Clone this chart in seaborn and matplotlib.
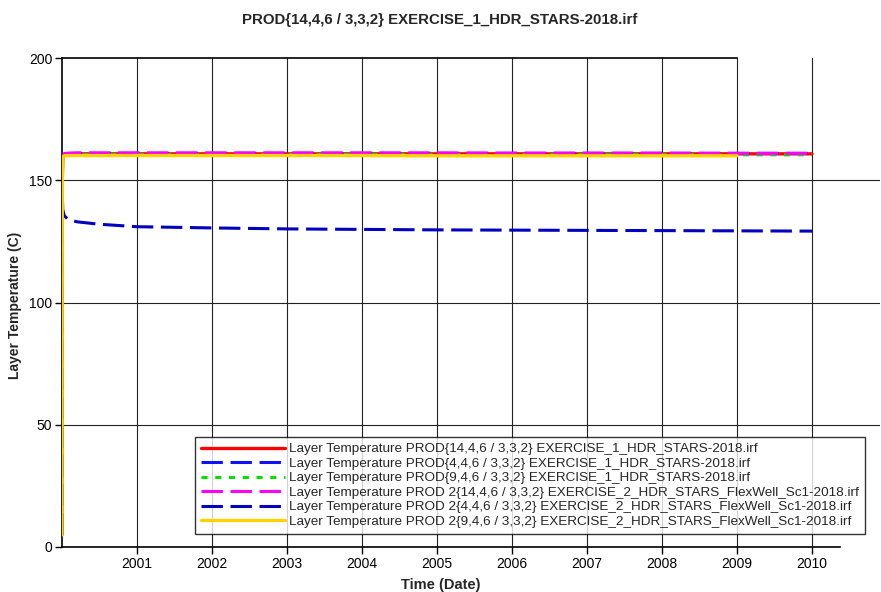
import numpy as np
import pandas as pd
import matplotlib
matplotlib.use("Agg")
import matplotlib.pyplot as plt
import seaborn as sns

# ---- data (decimal years) ----
t_main = [2000.0, 2000.004, 2000.01, 2000.03, 2000.08, 2000.2, 2000.5, 2001, 2002, 2003,
          2004, 2005, 2006, 2007, 2008, 2009, 2010]
t_short = [2000.0, 2000.004, 2000.01, 2000.03, 2000.08, 2000.2, 2000.5, 2001, 2002, 2003,
           2004, 2005, 2006, 2007, 2008, 2009]

s1_red = [5, 150, 159.5, 160.5, 160.7, 160.8, 160.8, 160.8, 160.8, 160.8, 160.8, 160.8, 160.8, 160.8, 160.8, 160.8, 160.8]
s2_blue = [5, 150, 159.8, 160.7, 160.9, 161.0, 161.0, 161.0, 161.0, 161.0, 161.0, 161.0, 161.0, 161.0, 161.0, 161.0, 161.0]
s3_green = [5, 150, 159.5, 160.3, 160.5, 160.5, 160.5, 160.5, 160.5, 160.5, 160.5, 160.5, 160.5, 160.5, 160.5, 160.4, 160.4]
s4_magenta = [5, 152, 160.0, 160.9, 161.1, 161.2, 161.2, 161.2, 161.2, 161.2, 161.2, 161.2, 161.1, 161.1, 161.1, 161.0, 161.0]
s5_navy = [5, 145, 138, 135.5, 134, 133, 132, 131.0, 130.5, 130.1, 129.9, 129.7, 129.6, 129.5, 129.4, 129.3, 129.2]
s6_yellow = [5, 150, 159.5, 160.0, 160.1, 160.1, 160.1, 160.1, 160.1, 160.1, 160.1, 160.0, 160.0, 160.0, 160.0, 160.0]

labels = [
    "Layer Temperature PROD{14,4,6 / 3,3,2} EXERCISE_1_HDR_STARS-2018.irf",
    "Layer Temperature PROD{4,4,6 / 3,3,2} EXERCISE_1_HDR_STARS-2018.irf",
    "Layer Temperature PROD{9,4,6 / 3,3,2} EXERCISE_1_HDR_STARS-2018.irf",
    "Layer Temperature PROD 2{14,4,6 / 3,3,2} EXERCISE_2_HDR_STARS_FlexWell_Sc1-2018.irf",
    "Layer Temperature PROD 2{4,4,6 / 3,3,2} EXERCISE_2_HDR_STARS_FlexWell_Sc1-2018.irf",
    "Layer Temperature PROD 2{9,4,6 / 3,3,2} EXERCISE_2_HDR_STARS_FlexWell_Sc1-2018.irf",
]
title = "PROD{14,4,6 / 3,3,2} EXERCISE_1_HDR_STARS-2018.irf"
year_ticks = [2001, 2002, 2003, 2004, 2005, 2006, 2007, 2008, 2009, 2010]
y_ticks = [0, 50, 100, 150, 200]

sns.set_style("white")
plt.rcParams['font.family'] = ['Liberation Sans', 'DejaVu Sans']

fig = plt.figure(figsize=(8.81, 5.92), dpi=100)
ax = fig.add_axes([62/881, 45/592, (880-62)/881, (547-58)/592])

series = [
    (t_main, s1_red, "#FF0000", "-", 2.4),
    (t_main, s2_blue, "#1010FF", (0, (7, 2.5)), 2.2),
    (t_main, s3_green, "#00DD00", (0, (2, 2.5)), 2.2),
    (t_main, s4_magenta, "#FF00FF", (0, (7, 2.5)), 2.2),
    (t_main, s5_navy, "#0000C0", (0, (7, 2.5)), 2.2),
    (t_short, s6_yellow, "#FFD200", "-", 2.4),
]
for (tx, vals, col, ls, lw), lab in zip(series, labels):
    df = pd.DataFrame({"t": tx, "v": vals})
    sns.lineplot(data=df, x="t", y="v", ax=ax, color=col, linestyle=ls, lw=lw,
                 label=lab, legend=False, zorder=3)

ax.set_xlim(2000, 2000 + (880-62)/75)
ax.set_ylim(0, 200)
ax.set_xticks(year_ticks)
ax.set_xticklabels([str(y) for y in year_ticks])
ax.set_yticks(y_ticks)
ax.tick_params(axis='both', direction='out', length=5, width=1, labelsize=10, colors='black', pad=2,
               bottom=True, left=True)
ax.grid(True, color='#222222', lw=0.8)
glines = ax.yaxis.get_gridlines()
glines[0].set_visible(False)
glines[-1].set_visible(False)

for s in ['top', 'bottom', 'left']:
    ax.spines[s].set_visible(True)
    ax.spines[s].set_color('black')
    ax.spines[s].set_linewidth(1.2)
ax.spines['right'].set_visible(False)
ax.spines['top'].set_bounds(2000, 2009)
ax.spines['bottom'].set_bounds(2000, 2010.37)

ax.set_xlabel("")
ax.set_ylabel("")
fig.text(441/881, 1 - 585/592, "Time (Date)", ha='center', va='center', fontsize=10.5, fontweight='bold')
fig.text(15/881, 1 - 305/592, "Layer Temperature (C)", ha='center', va='center', rotation=90,
         fontsize=10, fontweight='bold')
fig.text(440/881, 1 - 20/592, title, ha='center', va='center', fontsize=10.8, fontweight='bold')

handles, labs = ax.get_legend_handles_labels()
leg = ax.legend(handles, labs, loc='upper left', bbox_to_anchor=(195/881, 1 - 437/592),
                bbox_transform=fig.transFigure, fontsize=9.7, frameon=True, fancybox=False,
                borderaxespad=0, borderpad=0.45, labelspacing=0.15, handlelength=6.2,
                handletextpad=0.3)
leg.get_frame().set_edgecolor('black')
leg.get_frame().set_linewidth(1.0)
leg.set_zorder(5)

fig.savefig("out.png", dpi=100)
